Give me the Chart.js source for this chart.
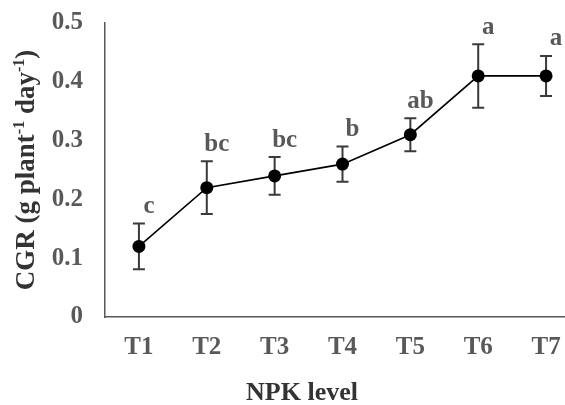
<!DOCTYPE html>
<html>
<head>
<meta charset="utf-8">
<script src="https://cdn.jsdelivr.net/npm/chart.js@4/dist/chart.umd.min.js"></script>
<style>
html,body{margin:0;padding:0;background:#fff;overflow:hidden;}
#wrap{position:relative;width:580px;height:405px;}
</style>
</head>
<body>
<div id="wrap"><canvas id="cgrChart"></canvas></div>
<script>
const categories=["T1","T2","T3","T4","T5","T6","T7"];
const cgrMeans=[0.12,0.22,0.24,0.26,0.31,0.41,0.41];
const cgrErrors=[0.039,0.045,0.032,0.03,0.028,0.054,0.034];
const groupLetters=["c","bc","bc","b","ab","a","a"];
const yTickValues=[0,0.1,0.2,0.3,0.4,0.5];
const yTitleParts=[["CGR (g plant",false],["-1",true],[" day",false],["-1",true],[")",false]];
const xTitle="NPK level";

const serif="'Liberation Serif','Times New Roman',serif";
const tickGrey="#595959";
const titleDark="#333333";

// error bars + letters drawn from the y scale
const errorBars={
    id:"errorBars",
    afterDatasetsDraw(chart){
        const ctx=chart.ctx;
        const y=chart.scales.y;
        const meta=chart.getDatasetMeta(0);
        ctx.save();
        meta.data.forEach((pt,i)=>{
            const top=y.getPixelForValue(cgrMeans[i]+cgrErrors[i]);
            const bot=y.getPixelForValue(cgrMeans[i]-cgrErrors[i]);
            ctx.strokeStyle="#3a3a3a";
            ctx.lineWidth=2;
            ctx.beginPath();
            ctx.moveTo(pt.x,top);ctx.lineTo(pt.x,bot);
            ctx.moveTo(pt.x-6,top);ctx.lineTo(pt.x+6,top);
            ctx.moveTo(pt.x-6,bot);ctx.lineTo(pt.x+6,bot);
            ctx.stroke();
            ctx.fillStyle="#000";
            ctx.beginPath();ctx.arc(pt.x,pt.y,6.5,0,Math.PI*2);ctx.fill();
            ctx.fillStyle=tickGrey;
            ctx.font="bold 25px "+serif;
            ctx.textAlign="center";
            ctx.textBaseline="middle";
            ctx.fillText(groupLetters[i],pt.x+10,top-17);
        });
        ctx.restore();
    }
};

const axisTitles={
    id:"axisTitles",
    afterDraw(chart){
        const ctx=chart.ctx;
        const area=chart.chartArea;
        ctx.save();
        ctx.fillStyle=titleDark;
        // x title
        ctx.font="bold 26px "+serif;
        ctx.textAlign="center";
        ctx.textBaseline="alphabetic";
        ctx.fillText(xTitle,302,400);
        // y title with superscripts
        const big="bold 27px "+serif, small="bold 16px "+serif;
        let total=0;
        yTitleParts.forEach(p=>{ctx.font=p[1]?small:big; total+=ctx.measureText(p[0]).width;});
        ctx.translate(34,(area.top+area.bottom)/2);
        ctx.rotate(-Math.PI/2);
        ctx.textAlign="left";
        let x=-total/2;
        yTitleParts.forEach(p=>{
            ctx.font=p[1]?small:big;
            ctx.fillText(p[0],x,p[1]?-10:0);
            x+=ctx.measureText(p[0]).width;
        });
        ctx.restore();
    }
};

new Chart(document.getElementById("cgrChart"),{
    type:"line",
    data:{
        labels:categories,
        datasets:[{
            data:cgrMeans,
            borderColor:"#000",
            borderWidth:1.6,
            pointRadius:0,
            tension:0,
            fill:false
        }]
    },
    options:{
        responsive:true,
        maintainAspectRatio:false,
        animation:false,
        layout:{padding:{top:23,right:0,bottom:0,left:0}},
        plugins:{legend:{display:false},tooltip:{enabled:false}},
        scales:{
            x:{
                offset:true,
                grid:{display:false,drawTicks:false},
                border:{color:tickGrey,width:1.5},
                ticks:{color:tickGrey,font:{family:serif,size:25,weight:"bold"},padding:16,maxRotation:0},
                afterFit:s=>{s.height=88;s.paddingLeft=0;s.paddingRight=0;}
            },
            y:{
                min:0,max:0.5,
                afterBuildTicks:s=>{s.ticks=yTickValues.map(v=>({value:v}));},
                grid:{display:false,drawTicks:false},
                border:{color:tickGrey,width:1.5},
                ticks:{color:tickGrey,font:{family:serif,size:25,weight:"bold"},padding:22,
                    callback:v=>v===0?"0":v.toFixed(1)},
                afterFit:s=>{s.width=105;s.paddingTop=0;s.paddingBottom=0;}
            }
        }
    },
    plugins:[errorBars,axisTitles]
});
</script>
</body>
</html>
